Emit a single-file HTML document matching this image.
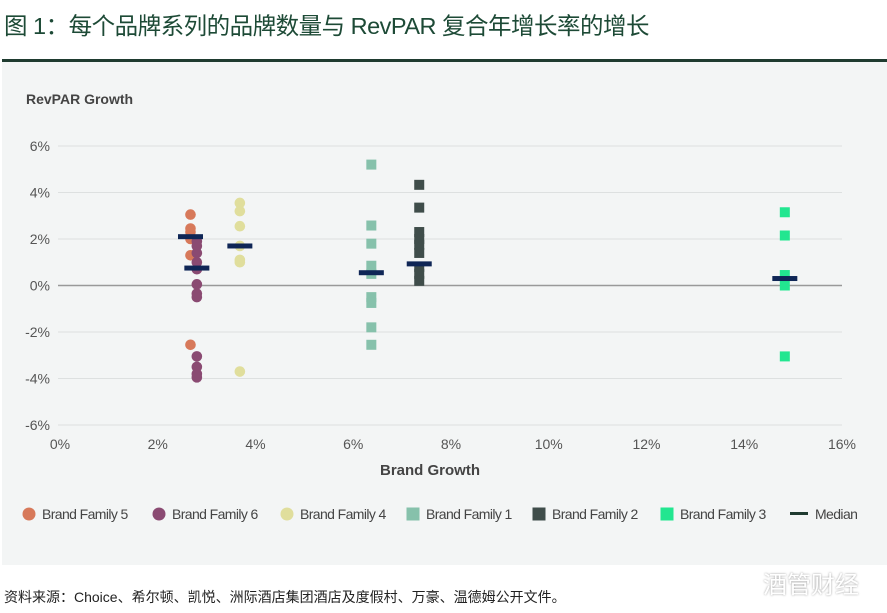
<!DOCTYPE html>
<html><head><meta charset="utf-8"><style>
body{margin:0;width:887px;height:613px;background:#fff;font-family:"Liberation Sans","Noto Sans CJK SC",sans-serif;position:relative;overflow:hidden}
#title{position:absolute;left:4px;top:7px;font-size:23.5px;color:#1d4a36;letter-spacing:-0.5px}
#rule{position:absolute;left:2px;top:59px;width:885px;height:3px;background:#1f3b30}
#panel{position:absolute;left:2px;top:62px;width:885px;height:503px;background:#f3f5f5}
#src{position:absolute;left:4px;top:587px;font-size:14px;color:#222}
#wm{position:absolute;left:763px;top:565px;font-size:24px;color:#fff;text-shadow:0 0 2px #999}
svg{position:absolute;left:0;top:0}
</style></head><body>
<div id="title">图 1：每个品牌系列的品牌数量与 RevPAR 复合年增长率的增长</div>
<div id="rule"></div>
<div id="panel"></div>
<svg id="chart" width="887" height="613"></svg>
<div id="src">资料来源：Choice、希尔顿、凯悦、洲际酒店集团酒店及度假村、万豪、温德姆公开文件。</div>
<div id="wm">酒管财经</div>
<script>
const xTicks=[0,2,4,6,8,10,12,14,16];
const yTicks=[6,4,2,0,-2,-4,-6];
const seriesNames=["Brand Family 5","Brand Family 6","Brand Family 4","Brand Family 1","Brand Family 2","Brand Family 3"];
const seriesColors=["#d7795a","#8a4a72","#e0de9c","#86c1ab","#3f4d4a","#22e690"];
const seriesShapes=["circle","circle","circle","square","square","square"];
const seriesX=[2.67,2.8,3.68,6.37,7.35,14.83];
const bf5=[3.05,2.45,2.3,2.1,2.0,1.3,-2.55];
const bf6=[1.9,1.7,1.4,1.0,0.7,0.05,-0.35,-0.5,-3.05,-3.5,-3.8,-3.95];
const bf4=[3.55,3.2,2.55,1.7,1.1,1.0,-3.7];
const bf1=[5.2,2.58,1.8,0.85,0.5,-0.5,-0.75,-1.8,-2.55];
const bf2=[4.33,3.35,2.3,2.0,1.75,1.4,0.8,0.5,0.2];
const bf3=[3.15,2.15,0.45,0.0,-3.05];
const seriesY=[bf5,bf6,bf4,bf1,bf2,bf3];
const medians=[2.1,0.75,1.7,0.55,0.93,0.3];
const X=v=>60+v*48.875, Y=v=>285.5-v*23.25;
const svg=document.getElementById('chart'),NS="http://www.w3.org/2000/svg";
function mk(t,a,txt){const e=document.createElementNS(NS,t);for(const k in a)e.setAttribute(k,a[k]);if(txt!=null)e.textContent=txt;svg.appendChild(e);return e;}
let e;
e=mk('text',{x:26,y:104,'font-size':14,'font-weight':'bold',fill:'#444'},'RevPAR Growth');


yTicks.forEach(v=>{
 e=mk('line',{x1:58,x2:842,y1:Y(v),y2:Y(v),stroke:v===0?'#999':'#dde0e0','stroke-width':v===0?1.5:1});
 
 
 e=mk('text',{x:50,y:Y(v)+5,'font-size':14,fill:'#555','text-anchor':'end'},v+'%');
 
 
});
xTicks.forEach(v=>{
 e=mk('text',{x:X(v),y:449,'font-size':14,fill:'#555','text-anchor':'middle'},v+'%');
 
 
});
e=mk('text',{x:430,y:475,'font-size':15,'font-weight':'bold',fill:'#444','text-anchor':'middle'},'Brand Growth');


seriesY.forEach((arr,i)=>{
 arr.forEach(v=>{
  const cx=X(seriesX[i]),cy=Y(v);
  if(seriesShapes[i]==='circle') e=mk('circle',{cx:cx,cy:cy,r:5.3,fill:seriesColors[i]});
  else e=mk('rect',{x:cx-5,y:cy-5,width:10,height:10,fill:seriesColors[i]});
  
  
 });
});
medians.forEach((m,i)=>{
 e=mk('rect',{x:X(seriesX[i])-12.5,y:Y(m)-2.5,width:25,height:5,fill:'#0f2656'});
 
 
});
const legX=[22,152,280,406,532,660];
seriesNames.forEach((n,i)=>{
 const cx=legX[i]+7,cy=514;
 if(seriesShapes[i]==='circle') e=mk('circle',{cx:cx,cy:cy,r:6.5,fill:seriesColors[i]});
 else e=mk('rect',{x:cx-6.5,y:cy-6.5,width:13,height:13,fill:seriesColors[i]});
 
 
 e=mk('text',{x:legX[i]+20,y:519,'font-size':14,fill:'#444','letter-spacing':'-0.6'},n);
 
 
});
e=mk('rect',{x:790,y:512,width:18,height:3,fill:'#1f3b30'});


e=mk('text',{x:815,y:519,'font-size':14,fill:'#444','letter-spacing':'-0.6'},'Median');


</script>
</body></html>
